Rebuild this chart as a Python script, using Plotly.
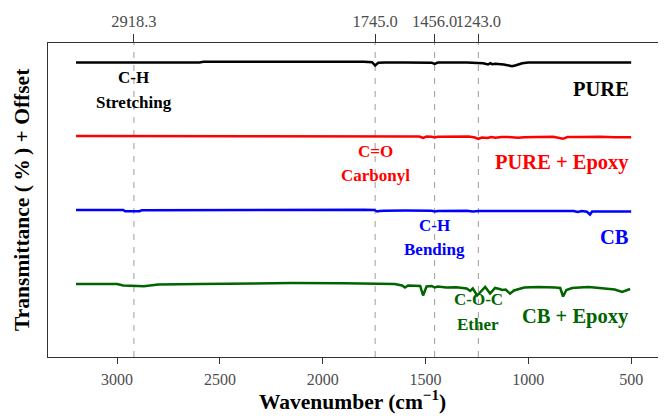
import plotly.graph_objects as go

# ---------------- data ----------------
wn_pure = [3200, 2900, 2600, 2580, 2300, 2000, 1800, 1760, 1745, 1730, 1700, 1600, 1500, 1470, 1456, 1440,
           1300, 1250, 1220, 1196, 1185, 1176, 1160, 1120, 1100, 1079, 1060, 1030, 1000, 900, 800, 700, 600, 500]
t_pure = [99.5, 99.5, 99.5, 100.3, 100.5, 100.5, 100.2, 99.8, 96.5, 99.2, 99.5, 99.5, 99.3, 99.3, 98.2, 99.4,
          99.6, 99.3, 98.8, 97.5, 98.8, 97.8, 98.2, 97.5, 96.8, 95.8, 96.8, 98.8, 99.5, 99.5, 99.6, 99.4, 99.4, 99.6]

wn_pure_epoxy = [3200, 2990, 2976, 2850, 2840, 2400, 2000, 1800, 1660, 1650, 1600, 1560, 1530, 1512, 1495, 1470,
                 1456, 1440, 1350, 1290, 1260, 1244, 1225, 1200, 1180, 1160, 1130, 1100, 1050, 1020, 950, 880,
                 831, 810, 750, 650, 580, 540, 515, 500]
t_pure_epoxy = [100, 100, 99.3, 99.3, 100, 100, 100, 100, 99.5, 100, 99.8, 99.8, 99.5, 98, 99.5, 99.2,
                98.5, 99.2, 99.3, 99.5, 98.5, 97.2, 98.5, 98, 99, 98.2, 99, 99, 98.2, 98.8, 99, 99.2,
                97.2, 99, 99, 99.3, 98.7, 98.5, 98.8, 98.8]

wn_cb = [3200, 2970, 2961, 2890, 2880, 2550, 2530, 2200, 2000, 1800, 1750, 1735, 1725, 1700, 1600, 1500, 1470,
         1456, 1440, 1300, 1270, 1240, 1150, 1050, 950, 850, 780, 760, 740, 715, 700, 690, 650, 600, 560, 520, 500]
t_cb = [100, 100, 98.8, 98.8, 99.8, 100, 100.5, 100.8, 100.6, 100.3, 100, 98.5, 99, 99.3, 99.5, 99.4, 99.2,
        98.5, 99, 99.2, 98.5, 99, 99, 99.2, 99.3, 99.3, 99, 98, 99, 98.3, 95.5, 98.5, 98.7, 98.7, 98.5, 98.4, 98.5]

wn_cb_epoxy = [3200, 3000, 2970, 2940, 2900, 2870, 2850, 2800, 2600, 2400, 2150, 1900, 1750, 1700, 1650, 1614,
               1600, 1585, 1560, 1526, 1512, 1495, 1470, 1456, 1440, 1400, 1350, 1300, 1283, 1270, 1249, 1230,
               1210, 1186, 1162, 1140, 1127, 1110, 1089, 1070, 1050, 1020, 950, 900, 870, 845, 831, 815, 787,
               750, 709, 680, 640, 612, 580, 544, 520, 505]
t_cb_epoxy = [100, 100, 98.5, 98, 98, 97.8, 98.5, 99.5, 100, 100.5, 101, 100.8, 100.5, 100, 100, 98.5,
              96.5, 98.5, 98, 98, 88.5, 97.5, 98, 96.5, 97.5, 96.5, 96.8, 95.5, 93, 95.5, 88.5, 93,
              97, 90.5, 96, 95, 94, 94.5, 90.3, 93.5, 95, 96.5, 97, 97, 96.5, 96, 87.5, 94, 96,
              96.5, 97, 96.5, 95.5, 95, 94.5, 92, 94, 95]

series_names = ["PURE", "PURE + Epoxy", "CB", "CB + Epoxy"]
series_wn = [wn_pure, wn_pure_epoxy, wn_cb, wn_cb_epoxy]
series_t = [t_pure, t_pure_epoxy, t_cb, t_cb_epoxy]
offsets = [222, 148, 74, 0]

peak_positions = [2918.3, 1745.0, 1456.0, 1243.0]
peak_labels = ["2918.3", "1745.0", "1456.0", "1243.0"]
x_ticks = [3000, 2500, 2000, 1500, 1000, 500]

# ---------------- style ----------------
colors = ["#000000", "#FF0000", "#0000FF", "#006400"]
FONT = "Liberation Serif, Times New Roman, serif"

fig = go.Figure()
for name, wn, t, off, c in zip(series_names, series_wn, series_t, offsets, colors):
    fig.add_trace(go.Scatter(x=wn, y=[v + off for v in t], mode="lines", name=name,
                             line=dict(color=c, width=2.5), showlegend=False))

# invisible trace that activates the top axis
fig.add_trace(go.Scatter(x=peak_positions, y=[100] * len(peak_positions), xaxis="x2", mode="lines",
                         line=dict(width=0, color="rgba(0,0,0,0)"), showlegend=False, hoverinfo="skip"))

for p in peak_positions:
    fig.add_shape(type="line", x0=p, x1=p, xref="x", y0=0, y1=1, yref="paper",
                  line=dict(color="#A6A6A6", width=1.1, dash="6px,7px"), layer="below")

xrange = [3336, 316]
fig.update_layout(
    width=666, height=416,
    margin=dict(l=40, r=5, t=35, b=67, autoexpand=False),
    plot_bgcolor="white", paper_bgcolor="white",
    font=dict(family=FONT, color="#4D4D4D"),
    xaxis=dict(range=xrange, tickvals=x_ticks, ticks="outside", ticklen=6, tickcolor="#333333",
               tickfont=dict(size=16, color="#4D4D4D", family=FONT), tickangle=0, automargin=False,
               ticklabelstandoff=2,
               showgrid=False, zeroline=False, showline=True, linecolor="#333333", linewidth=1.2,
               mirror=False),
    xaxis2=dict(range=xrange, overlaying="x", side="top", tickvals=peak_positions, ticktext=peak_labels,
                ticks="outside", ticklen=8, tickcolor="#333333", tickangle=0, automargin=False,
                tickfont=dict(size=16.5, color="#4D4D4D", family=FONT),
                showgrid=False, zeroline=False, showline=True, linecolor="#333333", linewidth=1.2),
    yaxis=dict(range=[27, 341], showticklabels=False, ticks="", showgrid=False, zeroline=False,
               automargin=False, showline=True, linecolor="#333333", linewidth=1.2, mirror=True),
)

# axis titles
fig.add_annotation(text="<b>Wavenumber (cm<sup>−1</sup>)</b>", x=0.49, y=-0.138, xref="paper", yref="paper",
                   yanchor="middle", xanchor="center", showarrow=False,
                   font=dict(size=21.5, color="black", family=FONT))
fig.add_annotation(text="<b>Transmittance (\u2009%\u2009) + Offset</b>", x=-0.042, y=0.503,
                   xref="paper", yref="paper",
                   textangle=-90, xanchor="center", yanchor="middle", showarrow=False,
                   font=dict(size=21.5, color="black", family=FONT))

ann = [
    ("<b>C-H</b>", 2918.3, 307, "center", colors[0], 17),
    ("<b>Stretching</b>", 2918.3, 282, "center", colors[0], 17),
    ("<b>PURE</b>", 500, 295, "right", colors[0], 20.5),
    ("<b>C=O</b>", 1745.0, 233, "center", colors[1], 17),
    ("<b>Carbonyl</b>", 1745.0, 209, "center", colors[1], 17),
    ("<b>PURE + Epoxy</b>", 500, 222, "right", colors[1], 20.5),
    ("<b>C-H</b>", 1456.0, 159, "center", colors[2], 17),
    ("<b>Bending</b>", 1456.0, 135, "center", colors[2], 17),
    ("<b>CB</b>", 500, 147, "right", colors[2], 20.5),
    ("<b>C-O-C</b>", 1243.0, 85, "center", colors[3], 17),
    ("<b>Ether</b>", 1243.0, 60, "center", colors[3], 17),
    ("<b>CB + Epoxy</b>", 500, 68, "right", colors[3], 20.5),
]
for text, x, y, xa, c, s in ann:
    fig.add_annotation(text=text, x=x, y=y, xref="x", yref="y", xanchor=xa, yanchor="middle",
                       showarrow=False, font=dict(size=s, color=c, family=FONT))

fig.write_html("out.html")
